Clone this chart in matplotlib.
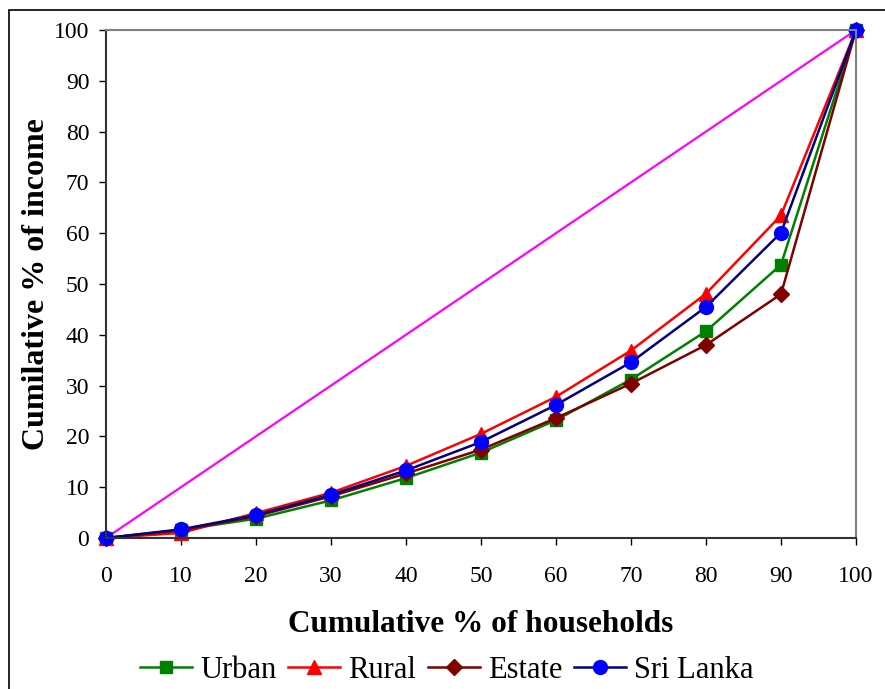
import numpy as np
import matplotlib.pyplot as plt
from matplotlib.patches import Rectangle

plt.rcParams['font.family'] = ['Liberation Serif', 'DejaVu Serif']

# Cumulative % of households
households = [0, 10, 20, 30, 40, 50, 60, 70, 80, 90, 100]

# Cumulative % of income
urban = [0, 1.6, 3.8, 7.4, 11.8, 16.8, 23.2, 31.2, 40.7, 53.8, 100]
rural = [0, 1.0, 4.9, 8.9, 14.2, 20.5, 27.8, 36.9, 48.1, 63.5, 100]
estate = [0, 1.5, 4.3, 8.2, 12.7, 17.4, 23.6, 30.4, 38.0, 48.0, 100]
sri_lanka = [0, 1.7, 4.5, 8.5, 13.3, 18.9, 26.2, 34.6, 45.5, 60.1, 100]
equality = [0, 100]

fig = plt.figure(figsize=(8.85, 6.89), dpi=100)
ax = fig.add_axes([106/885, 1 - 538/689, 750/885, 508/689])

# outer frame of the chart
fig.patches.append(Rectangle((9/885, -0.05), 1.2, 1 - 10/689 + 0.05,
                             transform=fig.transFigure, fill=False,
                             edgecolor='black', linewidth=1.2))

ax.plot([0, 100], equality, color='#FF00FF', lw=1.6)
ax.plot(households, urban, color='#008000', lw=1.8, marker='s', ms=9,
        mfc='#008000', mec='#008000', label='Urban')
ax.plot(households, rural, color='#FF0000', lw=1.8, marker='^', ms=10,
        mfc='#FF0000', mec='#FF0000', label='Rural')
ax.plot(households, estate, color='#800000', lw=1.8, marker='D', ms=8,
        mfc='#800000', mec='#800000', label='Estate')
ax.plot(households, sri_lanka, color='#000080', lw=1.8, marker='o', ms=10,
        mfc='#0000FF', mec='#0000FF', label='Sri Lanka')

ax.set_xlim(0, 100)
ax.set_ylim(0, 100)
ax.set_xticks(range(0, 101, 10))
ax.set_yticks(range(0, 101, 10))
ax.tick_params(direction='out', length=5, width=1, labelsize=17)
ax.tick_params(axis='x', pad=15)
ax.tick_params(axis='y', pad=7)
for s in ['top', 'right']:
    ax.spines[s].set_color('#808080')
    ax.spines[s].set_linewidth(1.5)
for s in ['left', 'bottom']:
    ax.spines[s].set_color('#333333')
    ax.spines[s].set_linewidth(1.5)
for p in ax.lines:
    p.set_clip_on(False)

ax.set_xlabel('Cumulative % of households', fontsize=22.5, fontweight='bold', labelpad=17)
ax.set_ylabel('Cumilative % of income', fontsize=23, fontweight='bold', labelpad=2)

fig.legend(*ax.get_legend_handles_labels(), loc='center', bbox_to_anchor=(0.505, 1 - 670/689),
           ncol=4, frameon=False, fontsize=22, handlelength=1.7, handletextpad=0.25,
           columnspacing=0.4, borderaxespad=0, borderpad=0)

fig.savefig('out.png', dpi=100)
